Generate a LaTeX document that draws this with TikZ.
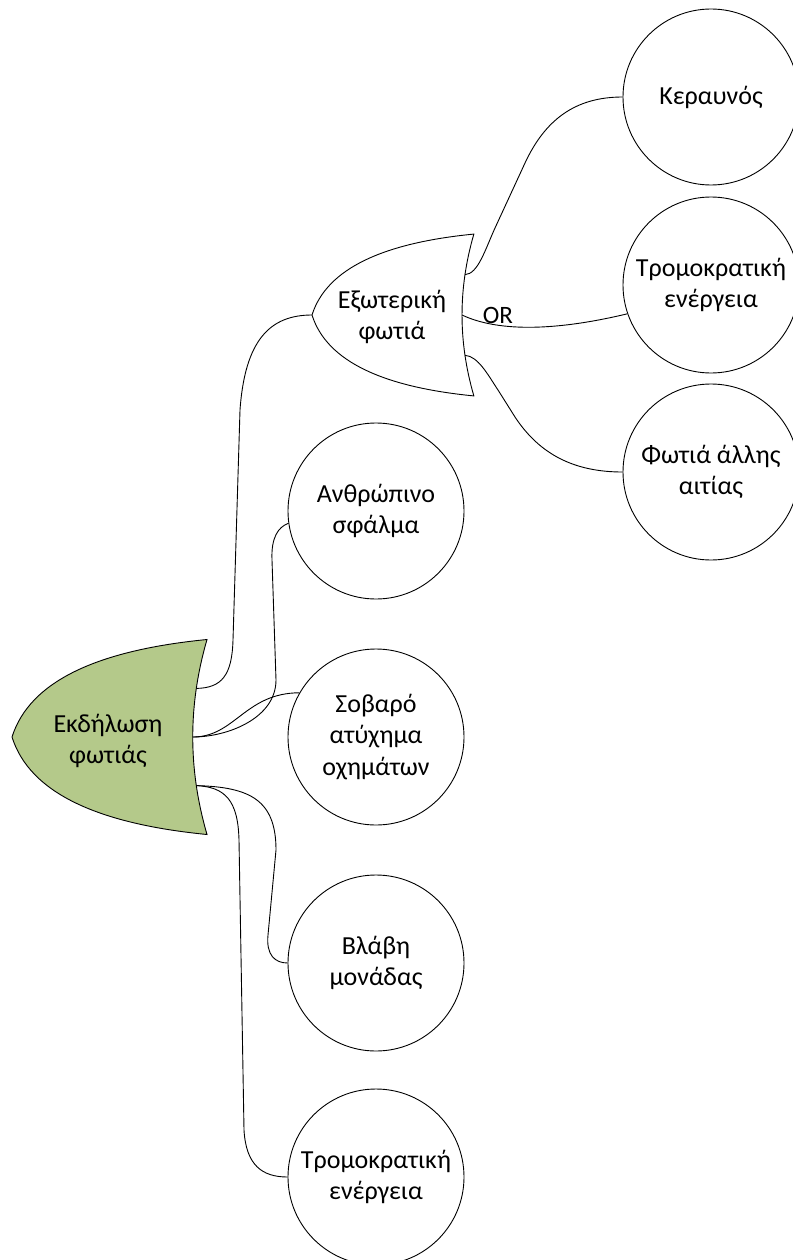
\documentclass[tikz,border=0pt]{standalone}
\usepackage{fontspec}
\setmainfont{Carlito}
\definecolor{gatefill}{RGB}{180,201,138}
\tikzset{
  leaf/.style={circle, draw=black, fill=white, line width=0.9pt, minimum size=176pt,
    inner sep=0pt, align=center, font=\fontsize{26}{31.5}\selectfont},
  gateline/.style={draw=black, line width=0.9pt},
  gatetext/.style={align=center, inner sep=0pt, font=\fontsize{26}{31.5}\selectfont},
  wire/.style={draw=black, line width=0.9pt},
  orlabel/.style={inner sep=0pt, font=\fontsize{25}{29}\selectfont},
}
% OR gate outline, tip at the local origin, opening to the right
\newcommand\orgateoutline[1]{%
  \path[#1] (0,0) .. controls (18,-57) and (88,-87) .. (195,-97.5)
    .. controls (176,-32) and (176,32) .. (195,97.5)
    .. controls (88,87) and (18,57) .. (0,0) -- cycle;}
\begin{document}
\begin{tikzpicture}[x=1pt, y=-1pt]
\useasboundingbox (0,0) rectangle (792,1260);

% main gate: Εκδήλωση φωτιάς
\begin{scope}[shift={(12,737)}]
  \orgateoutline{gateline, fill=gatefill}
  \coordinate (g1tip) at (0,0);
  \coordinate (g1o1) at (184.3,-48.6);
  \coordinate (g1o2) at (180.75,0);
  \coordinate (g1o3) at (184.3,48.6);
\end{scope}
\node[gatetext] (g1label) at (108,741) {Εκδήλωση\\φωτιάς};

% second gate: Εξωτερική φωτιά
\begin{scope}[shift={(312,315)}, scale=0.83]
  \orgateoutline{gateline, fill=white}
  \coordinate (g2tip) at (0,0);
  \coordinate (g2o1) at (184.3,-48.6);
  \coordinate (g2o2) at (180.75,0);
  \coordinate (g2o3) at (184.3,48.6);
\end{scope}
\node[gatetext] (g2label) at (392,317) {Εξωτερική\\φωτιά};

% basic events
\node[leaf] (ker)  at (711,97)   {Κεραυνός};
\node[leaf] (tr1)  at (711,285)  {Τρομοκρατική\\ενέργεια};
\node[leaf] (fot)  at (711,472)  {Φωτιά άλλης\\αιτίας};
\node[leaf] (anth) at (376,511)  {Ανθρώπινο\\σφάλμα};
\node[leaf] (sov)  at (376,737)  {Σοβαρό\\ατύχημα\\οχημάτων};
\node[leaf] (vl)   at (376,963)  {Βλάβη\\μονάδας};
\node[leaf] (tr2)  at (376,1177) {Τρομοκρατική\\ενέργεια};

% connectors of the main gate
\draw[wire] (g1o1) .. controls (222,688) and (232,675) .. (233,640)
  -- (240,410) .. controls (245,340) and (270,315) .. (g2tip);
\draw[wire] (g1o2) .. controls (228,737) and (276,718) .. (276,680)
  -- (272,560) .. controls (271,538) and (278,527) .. (anth.188);
\draw[wire] (g1o2) .. controls (235,737) and (245,693) .. (sov.150);
\draw[wire] (g1o3) .. controls (250,787) and (276,800) .. (276,850)
  -- (268,935) .. controls (266,955) and (275,963) .. (vl.west);
\draw[wire] (g1o3) .. controls (225,787) and (238,800) .. (239,840)
  -- (244,1130) .. controls (246,1165) and (262,1177) .. (tr2.west);

% connectors of the second gate
\draw[wire] (g2o1) .. controls (478,274) and (485,250) .. (495,228)
  -- (525,163) .. controls (545,120) and (575,97) .. (ker.west);
\draw[wire] (g2o2) .. controls (500,333) and (560,330) .. (tr1.199);
\draw[wire] (g2o3) .. controls (478,356) and (488,375) .. (498,390)
  -- (515,417) .. controls (540,455) and (575,472) .. (fot.west);
\node[orlabel] (orl) at (498,315) {OR};
\end{tikzpicture}
\end{document}
